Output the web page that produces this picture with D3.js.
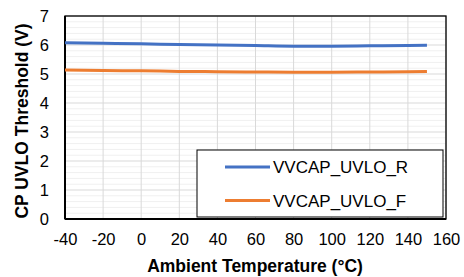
<!DOCTYPE html>
<html><head><meta charset="utf-8">
<script src="https://cdn.jsdelivr.net/npm/d3@7/dist/d3.min.js"></script>
<style>body{margin:0;background:#fff;} svg{display:block;font-family:"Liberation Sans",Arial,sans-serif;}</style>
</head><body>
<script>
const temps = [-40, -20, 0, 20, 40, 60, 80, 100, 120, 140, 150];
const uvloR = [6.08, 6.06, 6.04, 6.02, 6.00, 5.98, 5.96, 5.96, 5.97, 5.98, 5.99];
const uvloF = [5.14, 5.12, 5.11, 5.09, 5.08, 5.07, 5.06, 5.06, 5.07, 5.08, 5.09];
const seriesNames = ["VVCAP_UVLO_R", "VVCAP_UVLO_F"];
const seriesColors = ["#4472C4", "#ED7D31"];
const xTicks = [-40, -20, 0, 20, 40, 60, 80, 100, 120, 140, 160];
const yTicks = [0, 1, 2, 3, 4, 5, 6, 7];
const xTitle = "Ambient Temperature (°C)";
const yTitle = "CP UVLO Threshold (V)";

const W = 464, H = 277;
const m = {l: 65, t: 16, r: 18, b: 58};
const svg = d3.select("body").append("svg").attr("width", W).attr("height", H);
const x = d3.scaleLinear().domain([-40, 160]).range([m.l, W - m.r]);
const y = d3.scaleLinear().domain([0, 7]).range([H - m.b, m.t]);
const fmt = d => String(d).replace("\u2212", "-");

// minor gridlines
const minor = d3.range(0, 7.001, 0.2).filter(v => Math.abs(v - Math.round(v)) > 1e-6);
svg.append("g").selectAll("line").data(minor).join("line")
  .attr("x1", x(-40)).attr("x2", x(160))
  .attr("y1", d => y(d)).attr("y2", d => y(d))
  .attr("stroke", "#f0f0f0").attr("stroke-width", 1);
// major gridlines
svg.append("g").selectAll("line").data(yTicks).join("line")
  .attr("x1", x(-40)).attr("x2", x(160))
  .attr("y1", d => y(d)).attr("y2", d => y(d))
  .attr("stroke", "#d9d9d9").attr("stroke-width", 1);
svg.append("g").selectAll("line").data(xTicks).join("line")
  .attr("y1", y(0)).attr("y2", y(7))
  .attr("x1", d => x(d)).attr("x2", d => x(d))
  .attr("stroke", "#d9d9d9").attr("stroke-width", 1);

// border
svg.append("rect").attr("x", x(-40)).attr("y", y(7)).attr("width", x(160) - x(-40)).attr("height", y(0) - y(7))
  .attr("fill", "none").attr("stroke", "#000").attr("stroke-width", 1.3);
svg.append("line").attr("x1", x(-40)).attr("x2", x(-40)).attr("y1", y(0)).attr("y2", y(7)).attr("stroke", "#000").attr("stroke-width", 2);
svg.append("line").attr("x1", x(-40)).attr("x2", x(160)).attr("y1", y(0)).attr("y2", y(0)).attr("stroke", "#000").attr("stroke-width", 2);

// lines
const line = d3.line().x(d => x(d[0])).y(d => y(d[1])).curve(d3.curveMonotoneX);
[uvloR, uvloF].forEach((vals, i) => {
  svg.append("path").datum(temps.map((t, j) => [t, vals[j]]))
    .attr("d", line).attr("fill", "none").attr("stroke", seriesColors[i]).attr("stroke-width", 3);
});

// tick labels
const xAxis = d3.axisBottom(x).tickValues(xTicks).tickFormat(fmt).tickSize(0).tickPadding(14);
const gx = svg.append("g").attr("transform", `translate(0,${y(0)})`).call(xAxis);
gx.select(".domain").remove();
gx.selectAll("text").attr("font-size", 16.5).attr("fill", "#000").attr("font-family", "Liberation Sans, Arial, sans-serif");
const yAxis = d3.axisLeft(y).tickValues(yTicks).tickFormat(fmt).tickSize(0).tickPadding(16);
const gy = svg.append("g").attr("transform", `translate(${x(-40)},0)`).call(yAxis);
gy.select(".domain").remove();
gy.selectAll("text").attr("font-size", 16.5).attr("fill", "#000").attr("font-family", "Liberation Sans, Arial, sans-serif");

// titles
svg.append("text").attr("x", 255).attr("y", 272).attr("text-anchor", "middle")
  .attr("font-size", 17.5).attr("font-weight", "bold").text(xTitle);
svg.append("text").attr("transform", `translate(28,121) rotate(-90)`).attr("text-anchor", "middle")
  .attr("font-size", 17.5).attr("font-weight", "bold").text(yTitle);

// legend
const lg = svg.append("g");
lg.append("rect").attr("x", 197).attr("y", 150).attr("width", 246).attr("height", 67)
  .attr("fill", "#fff").attr("stroke", "#000").attr("stroke-width", 1);
seriesNames.forEach((n, i) => {
  const yy = 167 + i * 33.5;
  lg.append("line").attr("x1", 225).attr("x2", 270).attr("y1", yy).attr("y2", yy)
    .attr("stroke", seriesColors[i]).attr("stroke-width", 3);
  lg.append("text").attr("x", 273).attr("y", yy + 6).attr("font-size", 17).attr("fill", "#000").text(n);
});
</script>
</body></html>
